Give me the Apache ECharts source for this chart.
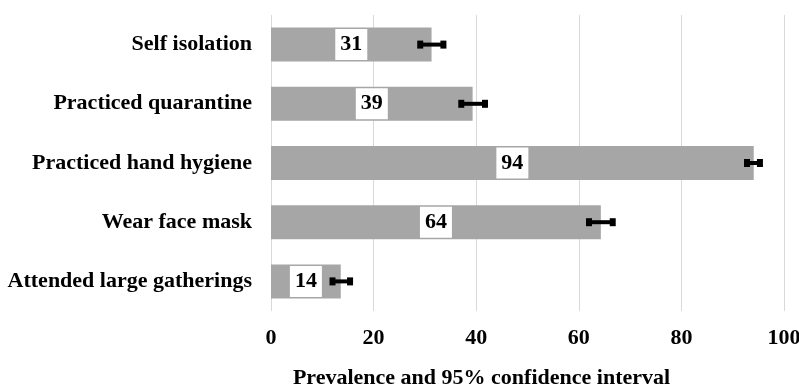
<!DOCTYPE html>
<html>
<head>
<meta charset="utf-8">
<script src="https://cdn.jsdelivr.net/npm/echarts@6/dist/echarts.min.js"></script>
<style>
  html, body { margin: 0; padding: 0; background: #fff; }
  #chart { width: 799px; height: 385px; }
</style>
</head>
<body>
<div id="chart"></div>
<script>
// categories, top to bottom
var categories = ['Self isolation', 'Practiced quarantine', 'Practiced hand hygiene', 'Wear face mask', 'Attended large gatherings'];
// prevalence (%)
var prevalence = [31.3, 39.3, 94.1, 64.3, 13.6];
// label shown in the white box
var shownLabels = ['31', '39', '94', '64', '14'];
// 95% confidence interval
var ciLow = [28.7, 36.7, 92.4, 61.6, 11.6];
var ciHigh = [34.0, 42.1, 95.7, 67.0, 15.8];
var xTicks = [0, 20, 40, 60, 80, 100];

var serif = '"Liberation Serif", "Times New Roman", serif';

window.onload = function () {
    var chart = echarts.init(document.getElementById('chart'));

    var ciData = [];
    for (var i = 0; i < categories.length; i++) {
        ciData.push([ciLow[i], ciHigh[i], i]);
    }

    var option = {
        animation: false,
        grid: { left: 271, right: 15, top: 15, bottom: 74, outerBoundsMode: 'none' },
        xAxis: {
            type: 'value',
            min: xTicks[0],
            max: xTicks[xTicks.length - 1],
            interval: 20,
            axisLine: { show: false },
            axisTick: { show: false },
            splitLine: { show: true, lineStyle: { color: '#d9d9d9', width: 1 } },
            axisLabel: {
                margin: 16,
                color: '#000',
                fontFamily: serif,
                fontWeight: 'bold',
                fontSize: 22
            },
            name: 'Prevalence and 95% confidence interval',
            nameLocation: 'middle',
            nameGap: 56,
            nameTextStyle: {
                color: '#000',
                fontFamily: serif,
                fontWeight: 'bold',
                fontSize: 22,
                padding: [0, 92, 0, 0]
            }
        },
        yAxis: {
            type: 'category',
            data: categories,
            inverse: true,
            axisLine: { show: false },
            axisTick: { show: false },
            axisLabel: {
                margin: 19,
                color: '#000',
                fontFamily: serif,
                fontWeight: 'bold',
                fontSize: 22
            }
        },
        series: [
            {
                type: 'bar',
                data: prevalence,
                barWidth: 34,
                itemStyle: { color: '#a6a6a6' },
                label: {
                    show: true,
                    position: 'inside',
                    formatter: function (p) { return shownLabels[p.dataIndex]; },
                    color: '#000',
                    fontFamily: serif,
                    fontWeight: 'bold',
                    fontSize: 22,
                    backgroundColor: '#fff',
                    padding: [5, 5, 4, 5]
                },
                z: 2
            },
            {
                type: 'custom',
                data: ciData,
                encode: { x: [0, 1], y: 2 },
                z: 5,
                renderItem: function (params, api) {
                    var lo = api.coord([api.value(0), api.value(2)]);
                    var hi = api.coord([api.value(1), api.value(2)]);
                    var y = lo[1];
                    return {
                        type: 'group',
                        children: [
                            {
                                type: 'line',
                                shape: { x1: lo[0], y1: y, x2: hi[0], y2: y },
                                style: { stroke: '#000', lineWidth: 4 }
                            },
                            {
                                type: 'rect',
                                shape: { x: lo[0] - 1, y: y - 4, width: 6, height: 8 },
                                style: { fill: '#000' }
                            },
                            {
                                type: 'rect',
                                shape: { x: hi[0] - 5, y: y - 4, width: 6, height: 8 },
                                style: { fill: '#000' }
                            }
                        ]
                    };
                }
            }
        ]
    };

    chart.setOption(option);
};
</script>
</body>
</html>
